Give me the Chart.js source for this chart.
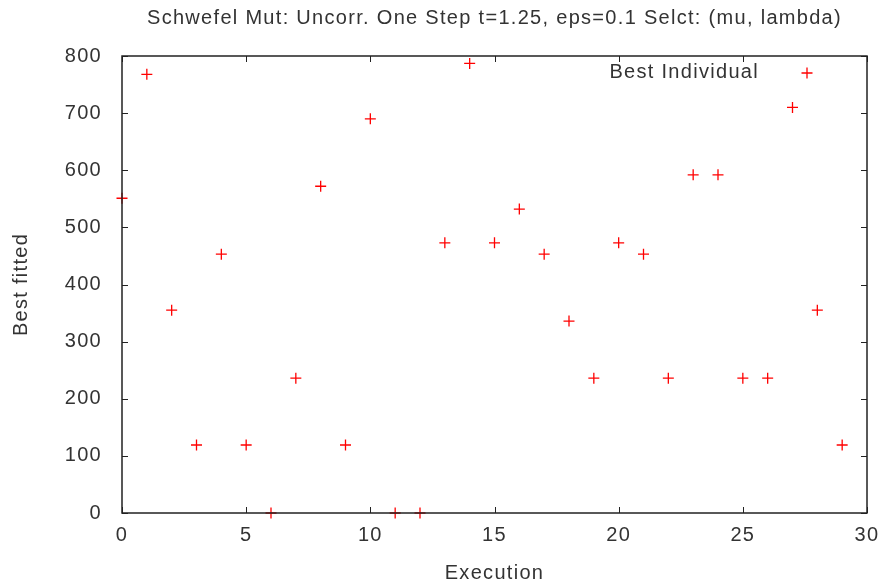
<!DOCTYPE html>
<html>
<head>
<meta charset="utf-8">
<title>Schwefel best fitted</title>
<script src="https://cdn.jsdelivr.net/npm/chart.js@4"></script>
<style>
  html, body { margin: 0; padding: 0; background: #fff; }
  #wrap { width: 882px; height: 588px; }
</style>
</head>
<body>
<div id="wrap"><canvas id="chart" width="882" height="588"></canvas></div>
<script>
// best fitness per execution (30 runs)
const executions = [0, 1, 2, 3, 4, 5, 6, 7, 8, 9, 10, 11, 12, 13, 14,
                    15, 16, 17, 18, 19, 20, 21, 22, 23, 24, 25, 26, 27, 28, 29];
const bestFitted = [551, 768, 355, 119, 453, 119, 0, 236, 572, 119,
                    690, 0, 0, 473, 787, 473, 532, 453, 336, 236,
                    473, 453, 236, 592, 592, 236, 236, 710, 355, 119];
const xTicks = [0, 5, 10, 15, 20, 25, 30];
const yTicks = [0, 100, 200, 300, 400, 500, 600, 700, 800];
const chartTitle = 'Schwefel Mut: Uncorr. One Step t=1.25, eps=0.1 Selct: (mu, lambda)';

const FONT = 'Liberation Sans, Arial, sans-serif';
const INK = '#333';
const SPACING = '1.3px';

// gnuplot-like frame: border + inward ticks on all four sides, title over the plot, key top-right
const framePlugin = {
    id: 'frame',
    beforeDraw(chart) {
        chart.ctx.letterSpacing = SPACING;
    },
    afterDatasetsDraw(chart) {
        const { ctx, chartArea: a, scales } = chart;
        const tick = 6;
        ctx.save();
        ctx.strokeStyle = '#222';
        ctx.lineWidth = 1;
        ctx.beginPath();
        xTicks.forEach(v => {
            const x = Math.round(scales.x.getPixelForValue(v)) + 0.5;
            ctx.moveTo(x, a.bottom); ctx.lineTo(x, a.bottom - tick);
            ctx.moveTo(x, a.top); ctx.lineTo(x, a.top + tick);
        });
        yTicks.forEach(v => {
            const y = Math.round(scales.y.getPixelForValue(v)) + 0.5;
            ctx.moveTo(a.left, y); ctx.lineTo(a.left + tick, y);
            ctx.moveTo(a.right, y); ctx.lineTo(a.right - tick, y);
        });
        ctx.stroke();
        ctx.lineWidth = 1.5;
        ctx.strokeRect(a.left, a.top, a.right - a.left, a.bottom - a.top);

        ctx.fillStyle = INK;
        ctx.font = '20px ' + FONT;
        ctx.letterSpacing = SPACING;
        ctx.textBaseline = 'middle';

        // title, centred over the plot area
        ctx.textAlign = 'center';
        ctx.fillText(chartTitle, (a.left + a.right) / 2, 18);

        // key
        const ds = chart.data.datasets[0];
        ctx.textAlign = 'right';
        ctx.fillText(ds.label, a.right - 108, a.top + 16);
        ctx.strokeStyle = ds.borderColor;
        ctx.lineWidth = ds.borderWidth;
        const kx = a.right - 60, ky = a.top + 17, r = ds.pointRadius;
        ctx.beginPath();
        ctx.moveTo(kx - r, ky); ctx.lineTo(kx + r, ky);
        ctx.moveTo(kx, ky - r); ctx.lineTo(kx, ky + r);
        ctx.stroke();
        ctx.restore();
    }
};

new Chart(document.getElementById('chart'), {
    type: 'scatter',
    data: {
        datasets: [{
            label: 'Best Individual',
            data: executions.map((x, i) => ({ x: x, y: bestFitted[i] })),
            pointStyle: 'cross',
            pointRadius: 5.5,
            pointHoverRadius: 5.5,
            borderColor: '#ff0000',
            backgroundColor: '#ff0000',
            borderWidth: 1.3,
            clip: false
        }]
    },
    options: {
        responsive: false,
        animation: false,
        events: [],
        layout: { padding: { top: 56, right: 15, bottom: 0, left: 0 } },
        plugins: {
            legend: { display: false },
            tooltip: { enabled: false },
            title: { display: false }
        },
        scales: {
            x: {
                type: 'linear',
                min: 0,
                max: 30,
                afterBuildTicks: s => { s.ticks = xTicks.map(v => ({ value: v })); },
                afterFit: s => { s.height = 75; s.paddingLeft = 0; s.paddingRight = 0; },
                grid: { display: false, drawTicks: false },
                border: { display: false },
                ticks: {
                    color: INK,
                    padding: 10,
                    maxRotation: 0,
                    font: { family: FONT, size: 20 }
                },
                title: {
                    display: true,
                    text: 'Execution',
                    color: INK,
                    font: { family: FONT, size: 20 },
                    padding: { top: 1, bottom: 3 }
                }
            },
            y: {
                type: 'linear',
                min: 0,
                max: 800,
                afterBuildTicks: s => { s.ticks = yTicks.map(v => ({ value: v })); },
                afterFit: s => { s.width = 122; s.paddingTop = 0; s.paddingBottom = 0; },
                grid: { display: false, drawTicks: false },
                border: { display: false },
                ticks: {
                    color: INK,
                    padding: 20,
                    font: { family: FONT, size: 20 }
                },
                title: {
                    display: true,
                    text: 'Best fitted',
                    color: INK,
                    font: { family: FONT, size: 20 },
                    padding: { top: 9, bottom: 0 }
                }
            }
        }
    },
    plugins: [framePlugin]
});
</script>
</body>
</html>
